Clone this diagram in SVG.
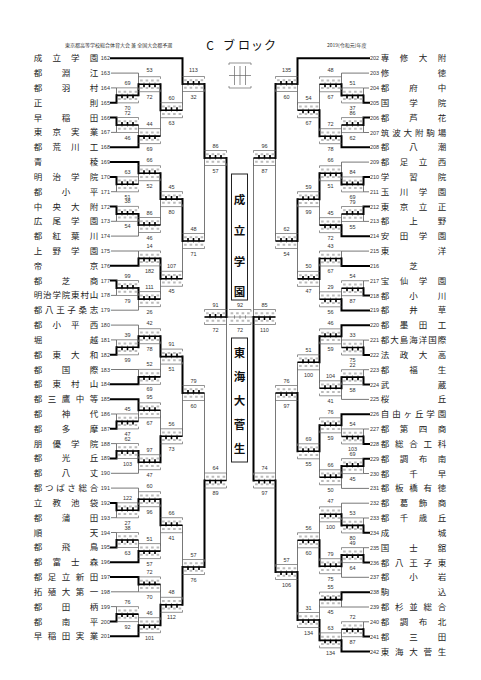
<svg xmlns="http://www.w3.org/2000/svg" width="481" height="680" viewBox="0 0 481 680">
<style>
.nm{font-family:"Noto Sans CJK JP","Noto Sans CJK SC",sans-serif;font-size:8.5px;fill:#222;text-anchor:middle}
.no{font-family:"Liberation Sans",sans-serif;font-size:5.5px;fill:#333}
.nl{text-anchor:end}
.lb{font-family:"Liberation Sans",sans-serif;font-size:5.5px;fill:#333;text-anchor:middle}
.hd{font-family:"Noto Sans CJK JP",sans-serif;font-size:5px;fill:#333}
.tt{font-family:"Noto Sans CJK JP",sans-serif;font-size:12px;fill:#111;text-anchor:middle}
.cn{font-family:"Noto Sans CJK JP",sans-serif;font-size:11.5px;font-weight:bold;fill:#111;text-anchor:middle}
.ln{fill:none;stroke:#555;stroke-width:.8}
.tk{fill:none;stroke:#000;stroke-width:2;stroke-linecap:square}
.bk{fill:none;stroke:#666;stroke-width:.7}
.dg{fill:none;stroke:#bbb;stroke-width:2}
</style>
<defs>
<g id="bl"><path class="bk" d="M0,0H22V2.2M0,15H22V12.8M0,7.5H22M5.5,5.8V9.2M11,5.8V9.2M16.5,5.8V9.2"/><path class="dg" d="M1.6,3.8h2.6M7.1,3.8h2.6M12.6,3.8h2.6M18.1,3.8h2.6M1.6,11.2h2.6M7.1,11.2h2.6M12.6,11.2h2.6M18.1,11.2h2.6"/></g>
<g id="br"><path class="bk" d="M22,0H0V2.2M22,15H0V12.8M0,7.5H22M5.5,5.8V9.2M11,5.8V9.2M16.5,5.8V9.2"/><path class="dg" d="M1.6,3.8h2.6M7.1,3.8h2.6M12.6,3.8h2.6M18.1,3.8h2.6M1.6,11.2h2.6M7.1,11.2h2.6M12.6,11.2h2.6M18.1,11.2h2.6"/></g>
<path id="wt" d="M0,7.5H22M5.5,4.5V7.5M11,4.5V7.5M16.5,4.5V7.5" fill="none" stroke="#000" stroke-width="1.6"/>
<path id="wb" d="M0,7.5H22M5.5,7.5V10.5M11,7.5V10.5M16.5,7.5V10.5" fill="none" stroke="#000" stroke-width="1.6"/>
</defs>
<rect width="481" height="680" fill="#fff"/>

<g id="header">
<text class="hd" x="65" y="47">東京都高等学校総合体育大会 兼 全国大会都予選</text>
<text class="tt" x="210 229 244 257 270" y="50">Cブロック</text>
<text class="hd" x="327" y="47">2019(令和元)年度</text>
</g>

<g id="legend">
<path class="bk" d="M229,63H251M229,63V65M251,63V65M229,88H251M229,88V86M251,88V86M229,75.5H251"/>
<path class="bk" d="M234.5,66V85M240,66V85M245.5,66V85"/>
</g>

<g id="connectors">
<path class="ln" d="M111,73.1H138.5M111,87.9H116.5M111,132.4H116.5M111,191.7H116.5M111,221.3H116.5M111,236.1H138.5M111,251H138.5M111,295.4H116.5M111,310.2H138.5M111,325.1H138.5M111,339.9H116.5M111,369.5H138.5M111,414H116.5M111,443.6H116.5M111,473.3H138.5M111,488.1H138.5M111,517.7H116.5M111,532.5H116.5M111,591.8H138.5M111,606.6H116.5
M116.5,87.9V102.8M116.5,117.6V132.4M116.5,176.9V191.7M116.5,206.5V221.3M116.5,280.6V295.4M116.5,339.9V354.7M116.5,414V428.8M116.5,443.6V458.4M116.5,502.9V517.7M116.5,532.5V547.4M116.5,606.6V621.5
M138.5,73.1V95.35M138.5,125V147.2M138.5,162V184.3M138.5,213.9V236.1M138.5,251V265.8M138.5,288V310.2M138.5,325.1V347.3M138.5,369.5V384.3M138.5,399.2V421.4M138.5,451V473.3M138.5,488.1V510.3M138.5,540V562.2M138.5,577V591.8M138.5,614.1V636.3
M160.5,84.2V136.1M160.5,173.2V225M160.5,258.4V299.1M160.5,336.2V376.9M160.5,410.3V462.2M160.5,499.2V551.1M160.5,584.4V625.2
M182.5,58.3V110.2M182.5,199.1V278.8M182.5,356.6V436.3M182.5,525.2V604.8
M204.5,84V241M204.5,393V567M226.5,158V480.5
M369,73.1H341.5M369,88H363.5M369,132.5H363.5M369,162.1H341.5M369,191.8H363.5M369,221.4H363.5M369,251.1H341.5M369,280.8H363.5M369,340.1H363.5M369,369.7H363.5M369,399.4H341.5M369,429H363.5M369,473.5H363.5M369,488.4H341.5M369,503.2H341.5M369,518H363.5M369,547.7H363.5M369,577.3H341.5M369,607H341.5M369,621.8H363.5
M363.5,88V102.8M363.5,117.6V132.5M363.5,177V191.8M363.5,206.6V221.4M363.5,280.8V295.6M363.5,340.1V354.9M363.5,369.7V384.6M363.5,429V443.9M363.5,458.7V473.5M363.5,518V532.8M363.5,547.7V562.5M363.5,621.8V636.6
M341.5,73.1V95.4M341.5,125.05V147.3M341.5,162.1V184.4M341.5,214V236.3M341.5,251.1V265.9M341.5,288.2V310.4M341.5,325.2V347.5M341.5,377.15V399.4M341.5,414.2V436.45M341.5,466.1V488.4M341.5,503.2V525.4M341.5,555.1V577.3M341.5,592.2V607M341.5,629.2V651.5
M319.5,84.25V136.2M319.5,173.25V225.15M319.5,258.5V299.3M319.5,336.35V388.3M319.5,425.3V477.25M319.5,514.3V566.2M319.5,599.6V640.35
M297.5,58.3V110.2M297.5,199.2V278.9M297.5,362.3V451.3M297.5,540.25V620
M275.5,84V241M275.5,393V572M253.5,158V480.5
M226.5,317H229M251,317H253.5"/>
<path class="tk" d="M111,58.3H182.5M111,102.8H116.5M111,117.6H116.5M111,147.2H138.5M111,162H138.5M111,176.9H116.5M111,206.5H116.5M111,265.8H138.5M111,280.6H116.5M111,354.7H116.5M111,384.3H138.5M111,399.2H138.5M111,428.8H116.5M111,458.4H116.5M111,502.9H116.5M111,547.4H116.5M111,562.2H138.5M111,577H138.5M111,621.5H116.5M111,636.3H138.5
M116.5,102.8V95.35M116.5,117.6V125M116.5,176.9V184.3M116.5,206.5V213.9M116.5,280.6V288M116.5,354.7V347.3M116.5,428.8V421.4M116.5,458.4V451M116.5,502.9V510.3M116.5,547.4V540M116.5,621.5V614.1
M138.5,95.35V84.2M138.5,147.2V136.1M138.5,162V173.2M138.5,213.9V225M138.5,265.8V258.4M138.5,288V299.1M138.5,347.3V336.2M138.5,384.3V376.9M138.5,399.2V410.3M138.5,451V462.2M138.5,510.3V499.2M138.5,562.2V551.1M138.5,577V584.4M138.5,636.3V625.2
M160.5,84.2V110.2M160.5,173.2V199.1M160.5,258.4V278.8M160.5,336.2V356.6M160.5,462.2V436.3M160.5,499.2V525.2M160.5,625.2V604.8
M182.5,58.3V84M182.5,199.1V241M182.5,356.6V393M182.5,604.8V567
M204.5,84V158M204.5,567V480.5M226.5,158V317
M369,58.3H297.5M369,102.8H363.5M369,117.6H363.5M369,147.3H341.5M369,177H363.5M369,206.6H363.5M369,236.3H341.5M369,265.9H341.5M369,295.6H363.5M369,310.4H341.5M369,325.2H341.5M369,354.9H363.5M369,384.6H363.5M369,414.2H341.5M369,443.9H363.5M369,458.7H363.5M369,532.8H363.5M369,562.5H363.5M369,592.2H341.5M369,636.6H363.5M369,651.5H341.5
M363.5,102.8V95.4M363.5,117.6V125.05M363.5,177V184.4M363.5,206.6V214M363.5,295.6V288.2M363.5,354.9V347.5M363.5,384.6V377.15M363.5,443.9V436.45M363.5,458.7V466.1M363.5,532.8V525.4M363.5,562.5V555.1M363.5,636.6V629.2
M341.5,95.4V84.25M341.5,147.3V136.2M341.5,184.4V173.25M341.5,236.3V225.15M341.5,265.9V258.5M341.5,310.4V299.3M341.5,325.2V336.35M341.5,377.15V388.3M341.5,414.2V425.3M341.5,466.1V477.25M341.5,525.4V514.3M341.5,555.1V566.2M341.5,592.2V599.6M341.5,651.5V640.35
M319.5,136.2V110.2M319.5,173.25V199.2M319.5,258.5V278.9M319.5,336.35V362.3M319.5,425.3V451.3M319.5,566.2V540.25M319.5,640.35V620
M297.5,58.3V84M297.5,199.2V241M297.5,451.3V393M297.5,620V572
M275.5,84V158M275.5,572V480.5M253.5,480.5V317"/>
</g>

<g id="matches">
<g id="a1"><use href="#bl" x="116.5" y="87.85"/><use href="#wb" x="116.5" y="87.85"/><text class="lb" x="127.5" y="84.85">69</text><text class="lb" x="127.5" y="109.85">70</text></g>
<g id="a2"><use href="#bl" x="116.5" y="117.5"/><use href="#wt" x="116.5" y="117.5"/><text class="lb" x="127.5" y="114.5">72</text><text class="lb" x="127.5" y="139.5">46</text></g>
<g id="a3"><use href="#bl" x="116.5" y="176.8"/><use href="#wt" x="116.5" y="176.8"/><text class="lb" x="127.5" y="173.8">63</text><text class="lb" x="127.5" y="198.8">51</text></g>
<g id="a4"><use href="#bl" x="116.5" y="206.4"/><use href="#wt" x="116.5" y="206.4"/><text class="lb" x="127.5" y="203.4">38</text><text class="lb" x="127.5" y="228.4">54</text></g>
<g id="a5"><use href="#bl" x="116.5" y="280.5"/><use href="#wt" x="116.5" y="280.5"/><text class="lb" x="127.5" y="277.5">99</text><text class="lb" x="127.5" y="302.5">79</text></g>
<g id="a6"><use href="#bl" x="116.5" y="339.8"/><use href="#wb" x="116.5" y="339.8"/><text class="lb" x="127.5" y="336.8">39</text><text class="lb" x="127.5" y="361.8">99</text></g>
<g id="a7"><use href="#bl" x="116.5" y="413.9"/><use href="#wb" x="116.5" y="413.9"/><text class="lb" x="127.5" y="410.9">45</text><text class="lb" x="127.5" y="435.9">47</text></g>
<g id="a8"><use href="#bl" x="116.5" y="443.5"/><use href="#wb" x="116.5" y="443.5"/><text class="lb" x="127.5" y="440.5">62</text><text class="lb" x="127.5" y="465.5">103</text></g>
<g id="a9"><use href="#bl" x="116.5" y="502.8"/><use href="#wt" x="116.5" y="502.8"/><text class="lb" x="127.5" y="499.8">122</text><text class="lb" x="127.5" y="524.8">27</text></g>
<g id="a10"><use href="#bl" x="116.5" y="532.5"/><use href="#wb" x="116.5" y="532.5"/><text class="lb" x="127.5" y="529.5">38</text><text class="lb" x="127.5" y="554.5">63</text></g>
<g id="a11"><use href="#bl" x="116.5" y="606.6"/><use href="#wb" x="116.5" y="606.6"/><text class="lb" x="127.5" y="603.6">76</text><text class="lb" x="127.5" y="628.6">92</text></g>

<g id="b1"><use href="#bl" x="138.5" y="76.7"/><use href="#wb" x="138.5" y="76.7"/><text class="lb" x="149.5" y="72">53</text><text class="lb" x="149.5" y="98.7">72</text></g>
<g id="b2"><use href="#bl" x="138.5" y="128.6"/><use href="#wb" x="138.5" y="128.6"/><text class="lb" x="149.5" y="125.6">44</text><text class="lb" x="149.5" y="150.6">69</text></g>
<g id="b3"><use href="#bl" x="138.5" y="165.7"/><use href="#wt" x="138.5" y="165.7"/><text class="lb" x="149.5" y="162.2">66</text><text class="lb" x="149.5" y="187.7">52</text></g>
<g id="b4"><use href="#bl" x="138.5" y="217.5"/><use href="#wt" x="138.5" y="217.5"/><text class="lb" x="149.5" y="214.5">86</text><text class="lb" x="149.5" y="239.5">46</text></g>
<g id="b5"><use href="#bl" x="138.5" y="250.9"/><use href="#wb" x="138.5" y="250.9"/><text class="lb" x="149.5" y="247.9">14</text><text class="lb" x="149.5" y="272.9">182</text></g>
<g id="b6"><use href="#bl" x="138.5" y="291.6"/><use href="#wt" x="138.5" y="291.6"/><text class="lb" x="149.5" y="288.6">111</text><text class="lb" x="149.5" y="313.6">26</text></g>
<g id="b7"><use href="#bl" x="138.5" y="328.7"/><use href="#wb" x="138.5" y="328.7"/><text class="lb" x="149.5" y="325.2">42</text><text class="lb" x="149.5" y="350.7">78</text></g>
<g id="b8"><use href="#bl" x="138.5" y="369.4"/><use href="#wb" x="138.5" y="369.4"/><text class="lb" x="149.5" y="366.4">52</text><text class="lb" x="149.5" y="391.4">69</text></g>
<g id="b9"><use href="#bl" x="138.5" y="402.8"/><use href="#wt" x="138.5" y="402.8"/><text class="lb" x="149.5" y="399.3">95</text><text class="lb" x="149.5" y="424.8">67</text></g>
<g id="b10"><use href="#bl" x="138.5" y="454.7"/><use href="#wt" x="138.5" y="454.7"/><text class="lb" x="149.5" y="451.7">97</text><text class="lb" x="149.5" y="476.7">47</text></g>
<g id="b11"><use href="#bl" x="138.5" y="491.7"/><use href="#wb" x="138.5" y="491.7"/><text class="lb" x="149.5" y="488.2">60</text><text class="lb" x="149.5" y="513.7">96</text></g>
<g id="b12"><use href="#bl" x="138.5" y="543.6"/><use href="#wb" x="138.5" y="543.6"/><text class="lb" x="149.5" y="540.6">51</text><text class="lb" x="149.5" y="565.6">57</text></g>
<g id="b13"><use href="#bl" x="138.5" y="576.9"/><use href="#wt" x="138.5" y="576.9"/><text class="lb" x="149.5" y="573.9">72</text><text class="lb" x="149.5" y="598.9">70</text></g>
<g id="b14"><use href="#bl" x="138.5" y="617.7"/><use href="#wb" x="138.5" y="617.7"/><text class="lb" x="149.5" y="614.7">46</text><text class="lb" x="149.5" y="639.7">101</text></g>

<g id="c1"><use href="#bl" x="160.5" y="102.7"/><use href="#wt" x="160.5" y="102.7"/><text class="lb" x="171.5" y="99.7">60</text><text class="lb" x="171.5" y="124.7">63</text></g>
<g id="c2"><use href="#bl" x="160.5" y="191.6"/><use href="#wt" x="160.5" y="191.6"/><text class="lb" x="171.5" y="188.6">45</text><text class="lb" x="171.5" y="213.6">80</text></g>
<g id="c3"><use href="#bl" x="160.5" y="271.3"/><use href="#wt" x="160.5" y="271.3"/><text class="lb" x="171.5" y="268.3">107</text><text class="lb" x="171.5" y="293.3">45</text></g>
<g id="c4"><use href="#bl" x="160.5" y="349.1"/><use href="#wt" x="160.5" y="349.1"/><text class="lb" x="171.5" y="346.1">91</text><text class="lb" x="171.5" y="371.1">51</text></g>
<g id="c5"><use href="#bl" x="160.5" y="428.8"/><use href="#wb" x="160.5" y="428.8"/><text class="lb" x="171.5" y="425.8">56</text><text class="lb" x="171.5" y="450.8">73</text></g>
<g id="c6"><use href="#bl" x="160.5" y="517.7"/><use href="#wt" x="160.5" y="517.7"/><text class="lb" x="171.5" y="514.7">66</text><text class="lb" x="171.5" y="539.7">41</text></g>
<g id="c7"><use href="#bl" x="160.5" y="597.3"/><use href="#wb" x="160.5" y="597.3"/><text class="lb" x="171.5" y="594.3">48</text><text class="lb" x="171.5" y="619.3">112</text></g>

<g id="d1"><use href="#bl" x="182.5" y="76.5"/><use href="#wt" x="182.5" y="76.5"/><text class="lb" x="193.5" y="72">113</text><text class="lb" x="193.5" y="98.5">32</text></g>
<g id="d2"><use href="#bl" x="182.5" y="233.5"/><use href="#wt" x="182.5" y="233.5"/><text class="lb" x="193.5" y="230.5">48</text><text class="lb" x="193.5" y="255.5">71</text></g>
<g id="d3"><use href="#bl" x="182.5" y="385.5"/><use href="#wt" x="182.5" y="385.5"/><text class="lb" x="193.5" y="382.5">79</text><text class="lb" x="193.5" y="407.5">60</text></g>
<g id="d4"><use href="#bl" x="182.5" y="559.5"/><use href="#wb" x="182.5" y="559.5"/><text class="lb" x="193.5" y="556.5">57</text><text class="lb" x="193.5" y="581.5">76</text></g>

<g id="e1"><use href="#bl" x="204.5" y="150.5"/><use href="#wt" x="204.5" y="150.5"/><text class="lb" x="215.5" y="147.5">86</text><text class="lb" x="215.5" y="172.5">57</text></g>
<g id="e2"><use href="#bl" x="204.5" y="473"/><use href="#wb" x="204.5" y="473"/><text class="lb" x="215.5" y="470">64</text><text class="lb" x="215.5" y="495">89</text></g>

<g id="semiL"><use href="#br" x="204.5" y="309.5"/><use href="#wt" x="204.5" y="309.5"/><text class="lb" x="215.5" y="306.5">91</text><text class="lb" x="215.5" y="331.5">72</text></g>
<g id="final"><use href="#bl" x="229" y="309.5"/><text class="lb" x="240" y="306.5">92</text><text class="lb" x="240" y="331.5">72</text></g>
<g id="semiR"><use href="#bl" x="253.5" y="309.5"/><use href="#wb" x="253.5" y="309.5"/><text class="lb" x="264.5" y="306.5">85</text><text class="lb" x="264.5" y="331.5">110</text></g>

<g id="ra1"><use href="#br" x="341.5" y="87.9"/><use href="#wb" x="341.5" y="87.9"/><text class="lb" x="352.5" y="84.9">51</text><text class="lb" x="352.5" y="109.9">37</text></g>
<g id="ra2"><use href="#br" x="341.5" y="117.55"/><use href="#wt" x="341.5" y="117.55"/><text class="lb" x="352.5" y="114.55">86</text><text class="lb" x="352.5" y="139.55">62</text></g>
<g id="ra3"><use href="#br" x="341.5" y="176.9"/><use href="#wt" x="341.5" y="176.9"/><text class="lb" x="352.5" y="173.9">84</text><text class="lb" x="352.5" y="198.9">69</text></g>
<g id="ra4"><use href="#br" x="341.5" y="206.5"/><use href="#wt" x="341.5" y="206.5"/><text class="lb" x="352.5" y="203.5">79</text><text class="lb" x="352.5" y="228.5">55</text></g>
<g id="ra5"><use href="#br" x="341.5" y="280.7"/><use href="#wb" x="341.5" y="280.7"/><text class="lb" x="352.5" y="277.7">54</text><text class="lb" x="352.5" y="302.7">87</text></g>
<g id="ra6"><use href="#br" x="341.5" y="340"/><use href="#wb" x="341.5" y="340"/><text class="lb" x="352.5" y="337">33</text><text class="lb" x="352.5" y="362">75</text></g>
<g id="ra7"><use href="#br" x="341.5" y="369.65"/><use href="#wb" x="341.5" y="369.65"/><text class="lb" x="352.5" y="366.65">22</text><text class="lb" x="352.5" y="391.65">58</text></g>
<g id="ra8"><use href="#br" x="341.5" y="428.95"/><use href="#wb" x="341.5" y="428.95"/><text class="lb" x="352.5" y="425.95">54</text><text class="lb" x="352.5" y="450.95">103</text></g>
<g id="ra9"><use href="#br" x="341.5" y="458.6"/><use href="#wt" x="341.5" y="458.6"/><text class="lb" x="352.5" y="455.6">69</text><text class="lb" x="352.5" y="480.6">45</text></g>
<g id="ra10"><use href="#br" x="341.5" y="517.9"/><use href="#wb" x="341.5" y="517.9"/><text class="lb" x="352.5" y="514.9">53</text><text class="lb" x="352.5" y="539.9">80</text></g>
<g id="ra11"><use href="#br" x="341.5" y="547.6"/><use href="#wb" x="341.5" y="547.6"/><text class="lb" x="352.5" y="544.6">49</text><text class="lb" x="352.5" y="569.6">64</text></g>
<g id="ra12"><use href="#br" x="341.5" y="621.7"/><use href="#wb" x="341.5" y="621.7"/><text class="lb" x="352.5" y="618.7">72</text><text class="lb" x="352.5" y="643.7">87</text></g>

<g id="rb1"><use href="#br" x="319.5" y="76.75"/><use href="#wb" x="319.5" y="76.75"/><text class="lb" x="330.5" y="72">48</text><text class="lb" x="330.5" y="98.75">67</text></g>
<g id="rb2"><use href="#br" x="319.5" y="128.7"/><use href="#wb" x="319.5" y="128.7"/><text class="lb" x="330.5" y="125.7">72</text><text class="lb" x="330.5" y="150.7">78</text></g>
<g id="rb3"><use href="#br" x="319.5" y="165.75"/><use href="#wb" x="319.5" y="165.75"/><text class="lb" x="330.5" y="162.25">66</text><text class="lb" x="330.5" y="187.75">51</text></g>
<g id="rb4"><use href="#br" x="319.5" y="217.65"/><use href="#wb" x="319.5" y="217.65"/><text class="lb" x="330.5" y="214.65">45</text><text class="lb" x="330.5" y="239.65">72</text></g>
<g id="rb5"><use href="#br" x="319.5" y="251"/><use href="#wb" x="319.5" y="251"/><text class="lb" x="330.5" y="248">43</text><text class="lb" x="330.5" y="273">67</text></g>
<g id="rb6"><use href="#br" x="319.5" y="291.8"/><use href="#wb" x="319.5" y="291.8"/><text class="lb" x="330.5" y="288.8">29</text><text class="lb" x="330.5" y="313.8">56</text></g>
<g id="rb7"><use href="#br" x="319.5" y="328.85"/><use href="#wt" x="319.5" y="328.85"/><text class="lb" x="330.5" y="325.35">46</text><text class="lb" x="330.5" y="350.85">59</text></g>
<g id="rb8"><use href="#br" x="319.5" y="380.8"/><use href="#wt" x="319.5" y="380.8"/><text class="lb" x="330.5" y="377.8">104</text><text class="lb" x="330.5" y="402.8">41</text></g>
<g id="rb9"><use href="#br" x="319.5" y="417.8"/><use href="#wt" x="319.5" y="417.8"/><text class="lb" x="330.5" y="414.3">76</text><text class="lb" x="330.5" y="439.8">59</text></g>
<g id="rb10"><use href="#br" x="319.5" y="469.75"/><use href="#wt" x="319.5" y="469.75"/><text class="lb" x="330.5" y="466.75">66</text><text class="lb" x="330.5" y="491.75">50</text></g>
<g id="rb11"><use href="#br" x="319.5" y="506.8"/><use href="#wb" x="319.5" y="506.8"/><text class="lb" x="330.5" y="503.3">47</text><text class="lb" x="330.5" y="528.8">100</text></g>
<g id="rb12"><use href="#br" x="319.5" y="558.7"/><use href="#wt" x="319.5" y="558.7"/><text class="lb" x="330.5" y="555.7">79</text><text class="lb" x="330.5" y="580.7">75</text></g>
<g id="rb13"><use href="#br" x="319.5" y="592.1"/><use href="#wt" x="319.5" y="592.1"/><text class="lb" x="330.5" y="589.1">55</text><text class="lb" x="330.5" y="614.1">45</text></g>
<g id="rb14"><use href="#br" x="319.5" y="632.85"/><use href="#wb" x="319.5" y="632.85"/><text class="lb" x="330.5" y="629.85">63</text><text class="lb" x="330.5" y="654.85">134</text></g>

<g id="rc1"><use href="#br" x="297.5" y="102.7"/><use href="#wb" x="297.5" y="102.7"/><text class="lb" x="308.5" y="99.7">54</text><text class="lb" x="308.5" y="124.7">67</text></g>
<g id="rc2"><use href="#br" x="297.5" y="191.7"/><use href="#wt" x="297.5" y="191.7"/><text class="lb" x="308.5" y="188.7">59</text><text class="lb" x="308.5" y="213.7">99</text></g>
<g id="rc3"><use href="#br" x="297.5" y="271.4"/><use href="#wt" x="297.5" y="271.4"/><text class="lb" x="308.5" y="268.4">50</text><text class="lb" x="308.5" y="293.4">47</text></g>
<g id="rc4"><use href="#br" x="297.5" y="354.8"/><use href="#wt" x="297.5" y="354.8"/><text class="lb" x="308.5" y="351.8">51</text><text class="lb" x="308.5" y="376.8">100</text></g>
<g id="rc5"><use href="#br" x="297.5" y="443.8"/><use href="#wt" x="297.5" y="443.8"/><text class="lb" x="308.5" y="440.8">69</text><text class="lb" x="308.5" y="465.8">55</text></g>
<g id="rc6"><use href="#br" x="297.5" y="532.75"/><use href="#wb" x="297.5" y="532.75"/><text class="lb" x="308.5" y="529.75">56</text><text class="lb" x="308.5" y="554.75">60</text></g>
<g id="rc7"><use href="#br" x="297.5" y="612.5"/><use href="#wb" x="297.5" y="612.5"/><text class="lb" x="308.5" y="609.5">31</text><text class="lb" x="308.5" y="634.5">134</text></g>

<g id="rd1"><use href="#br" x="275.5" y="76.5"/><use href="#wt" x="275.5" y="76.5"/><text class="lb" x="286.5" y="72">135</text><text class="lb" x="286.5" y="98.5">60</text></g>
<g id="rd2"><use href="#br" x="275.5" y="233.5"/><use href="#wt" x="275.5" y="233.5"/><text class="lb" x="286.5" y="230.5">62</text><text class="lb" x="286.5" y="255.5">54</text></g>
<g id="rd3"><use href="#br" x="275.5" y="385.5"/><use href="#wb" x="275.5" y="385.5"/><text class="lb" x="286.5" y="382.5">76</text><text class="lb" x="286.5" y="407.5">97</text></g>
<g id="rd4"><use href="#br" x="275.5" y="564.5"/><use href="#wb" x="275.5" y="564.5"/><text class="lb" x="286.5" y="561.5">57</text><text class="lb" x="286.5" y="586.5">106</text></g>

<g id="re1"><use href="#br" x="253.5" y="150.5"/><use href="#wt" x="253.5" y="150.5"/><text class="lb" x="264.5" y="147.5">96</text><text class="lb" x="264.5" y="172.5">87</text></g>
<g id="re2"><use href="#br" x="253.5" y="473"/><use href="#wb" x="253.5" y="473"/><text class="lb" x="264.5" y="470">74</text><text class="lb" x="264.5" y="495">97</text></g>
</g>

<g id="winners">
<g id="w-seiritsu"><rect x="231.5" y="174" width="16" height="126" fill="#fff" stroke="#222" stroke-width="1"/><text class="cn" x="239.5 239.5 239.5 239.5" y="204 235 266 296">成立学園</text></g>
<g id="w-tokai"><rect x="231.5" y="338" width="16" height="124" fill="#fff" stroke="#222" stroke-width="1"/><text class="cn" x="239.5 239.5 239.5 239.5 239.5" y="357 381 405 429 453">東海大菅生</text></g>
</g>

<g id="teams-left">
<g id="t162"><text class="nm" x="38 56.7 75.3 94" y="61.3">成立学園</text><text class="no nl" x="110" y="60.3">162</text></g>
<g id="t163"><text class="nm" x="38 66 94" y="76.1">都淵江</text><text class="no nl" x="110" y="75.1">163</text></g>
<g id="t164"><text class="nm" x="38 66 94" y="90.9">都羽村</text><text class="no nl" x="110" y="89.9">164</text></g>
<g id="t165"><text class="nm" x="38 94" y="105.8">正則</text><text class="no nl" x="110" y="104.8">165</text></g>
<g id="t166"><text class="nm" x="38 66 94" y="120.6">早稲田</text><text class="no nl" x="110" y="119.6">166</text></g>
<g id="t167"><text class="nm" x="38 56.7 75.3 94" y="135.4">東京実業</text><text class="no nl" x="110" y="134.4">167</text></g>
<g id="t168"><text class="nm" x="38 56.7 75.3 94" y="150.2">都荒川工</text><text class="no nl" x="110" y="149.2">168</text></g>
<g id="t169"><text class="nm" x="38 94" y="165">青稜</text><text class="no nl" x="110" y="164">169</text></g>
<g id="t170"><text class="nm" x="38 56.7 75.3 94" y="179.9">明治学院</text><text class="no nl" x="110" y="178.9">170</text></g>
<g id="t171"><text class="nm" x="38 66 94" y="194.7">都小平</text><text class="no nl" x="110" y="193.7">171</text></g>
<g id="t172"><text class="nm" x="38 56.7 75.3 94" y="209.5">中央大附</text><text class="no nl" x="110" y="208.5">172</text></g>
<g id="t173"><text class="nm" x="38 56.7 75.3 94" y="224.3">広尾学園</text><text class="no nl" x="110" y="223.3">173</text></g>
<g id="t174"><text class="nm" x="38 56.7 75.3 94" y="239.1">都紅葉川</text><text class="no nl" x="110" y="238.1">174</text></g>
<g id="t175"><text class="nm" x="38 56.7 75.3 94" y="254">上野学園</text><text class="no nl" x="110" y="253">175</text></g>
<g id="t176"><text class="nm" x="38 94" y="268.8">帝京</text><text class="no nl" x="110" y="267.8">176</text></g>
<g id="t177"><text class="nm" x="38 66 94" y="283.6">都芝商</text><text class="no nl" x="110" y="282.6">177</text></g>
<g id="t178"><text class="nm" x="38 47.3 56.7 66 75.3 84.7 94" y="298.4">明治学院東村山</text><text class="no nl" x="110" y="297.4">178</text></g>
<g id="t179"><text class="nm" x="38 49.2 60.4 71.6 82.8 94" y="313.2">都八王子桑志</text><text class="no nl" x="110" y="312.2">179</text></g>
<g id="t180"><text class="nm" x="38 56.7 75.3 94" y="328.1">都小平西</text><text class="no nl" x="110" y="327.1">180</text></g>
<g id="t181"><text class="nm" x="38 94" y="342.9">堀越</text><text class="no nl" x="110" y="341.9">181</text></g>
<g id="t182"><text class="nm" x="38 56.7 75.3 94" y="357.7">都東大和</text><text class="no nl" x="110" y="356.7">182</text></g>
<g id="t183"><text class="nm" x="38 66 94" y="372.5">都国際</text><text class="no nl" x="110" y="371.5">183</text></g>
<g id="t184"><text class="nm" x="38 56.7 75.3 94" y="387.3">都東村山</text><text class="no nl" x="110" y="386.3">184</text></g>
<g id="t185"><text class="nm" x="38 52 66 80 94" y="402.2">都三鷹中等</text><text class="no nl" x="110" y="401.2">185</text></g>
<g id="t186"><text class="nm" x="38 66 94" y="417">都神代</text><text class="no nl" x="110" y="416">186</text></g>
<g id="t187"><text class="nm" x="38 66 94" y="431.8">都多摩</text><text class="no nl" x="110" y="430.8">187</text></g>
<g id="t188"><text class="nm" x="38 56.7 75.3 94" y="446.6">朋優学院</text><text class="no nl" x="110" y="445.6">188</text></g>
<g id="t189"><text class="nm" x="38 66 94" y="461.4">都光丘</text><text class="no nl" x="110" y="460.4">189</text></g>
<g id="t190"><text class="nm" x="38 66 94" y="476.3">都八丈</text><text class="no nl" x="110" y="475.3">190</text></g>
<g id="t191"><text class="nm" x="38 49.2 60.4 71.6 82.8 94" y="491.1">都つばさ総合</text><text class="no nl" x="110" y="490.1">191</text></g>
<g id="t192"><text class="nm" x="38 56.7 75.3 94" y="505.9">立教池袋</text><text class="no nl" x="110" y="504.9">192</text></g>
<g id="t193"><text class="nm" x="38 66 94" y="520.7">都蒲田</text><text class="no nl" x="110" y="519.7">193</text></g>
<g id="t194"><text class="nm" x="38 94" y="535.5">順天</text><text class="no nl" x="110" y="534.5">194</text></g>
<g id="t195"><text class="nm" x="38 66 94" y="550.4">都飛鳥</text><text class="no nl" x="110" y="549.4">195</text></g>
<g id="t196"><text class="nm" x="38 56.7 75.3 94" y="565.2">都富士森</text><text class="no nl" x="110" y="564.2">196</text></g>
<g id="t197"><text class="nm" x="38 52 66 80 94" y="580">都足立新田</text><text class="no nl" x="110" y="579">197</text></g>
<g id="t198"><text class="nm" x="38 52 66 80 94" y="594.8">拓殖大第一</text><text class="no nl" x="110" y="593.8">198</text></g>
<g id="t199"><text class="nm" x="38 66 94" y="609.6">都田柄</text><text class="no nl" x="110" y="608.6">199</text></g>
<g id="t200"><text class="nm" x="38 66 94" y="624.5">都南平</text><text class="no nl" x="110" y="623.5">200</text></g>
<g id="t201"><text class="nm" x="38 52 66 80 94" y="639.3">早稲田実業</text><text class="no nl" x="110" y="638.3">201</text></g>
</g>

<g id="teams-right">
<g id="t202"><text class="no" x="370" y="60.3">202</text><text class="nm" x="385 404 423 442" y="61.3">専修大附</text></g>
<g id="t203"><text class="no" x="370" y="75.1">203</text><text class="nm" x="385 442" y="76.1">修徳</text></g>
<g id="t204"><text class="no" x="370" y="90">204</text><text class="nm" x="385 413.5 442" y="91">都府中</text></g>
<g id="t205"><text class="no" x="370" y="104.8">205</text><text class="nm" x="385 413.5 442" y="105.8">国学院</text></g>
<g id="t206"><text class="no" x="370" y="119.6">206</text><text class="nm" x="385 413.5 442" y="120.6">都芦花</text></g>
<g id="t207"><text class="no" x="370" y="134.5">207</text><text class="nm" x="385 396.4 407.8 419.2 430.6 442" y="135.5">筑波大附駒場</text></g>
<g id="t208"><text class="no" x="370" y="149.3">208</text><text class="nm" x="385 413.5 442" y="150.3">都八潮</text></g>
<g id="t209"><text class="no" x="370" y="164.1">209</text><text class="nm" x="385 404 423 442" y="165.1">都足立西</text></g>
<g id="t210"><text class="no" x="370" y="179">210</text><text class="nm" x="385 413.5 442" y="180">学習院</text></g>
<g id="t211"><text class="no" x="370" y="193.8">211</text><text class="nm" x="385 404 423 442" y="194.8">玉川学園</text></g>
<g id="t212"><text class="no" x="370" y="208.6">212</text><text class="nm" x="385 404 423 442" y="209.6">東京立正</text></g>
<g id="t213"><text class="no" x="370" y="223.4">213</text><text class="nm" x="385 413.5 442" y="224.4">都上野</text></g>
<g id="t214"><text class="no" x="370" y="238.3">214</text><text class="nm" x="385 404 423 442" y="239.3">安田学園</text></g>
<g id="t215"><text class="no" x="370" y="253.1">215</text><text class="nm" x="385 442" y="254.1">東洋</text></g>
<g id="t216"><text class="no" x="370" y="267.9">216</text><text class="nm" x="413.5" y="268.9">芝</text></g>
<g id="t217"><text class="no" x="370" y="282.8">217</text><text class="nm" x="385 404 423 442" y="283.8">宝仙学園</text></g>
<g id="t218"><text class="no" x="370" y="297.6">218</text><text class="nm" x="385 413.5 442" y="298.6">都小川</text></g>
<g id="t219"><text class="no" x="370" y="312.4">219</text><text class="nm" x="385 413.5 442" y="313.4">都井草</text></g>
<g id="t220"><text class="no" x="370" y="327.2">220</text><text class="nm" x="385 404 423 442" y="328.2">都墨田工</text></g>
<g id="t221"><text class="no" x="370" y="342.1">221</text><text class="nm" x="385 394.5 404 413.5 423 432.5 442" y="343.1">都大島海洋国際</text></g>
<g id="t222"><text class="no" x="370" y="356.9">222</text><text class="nm" x="385 404 423 442" y="357.9">法政大高</text></g>
<g id="t223"><text class="no" x="370" y="371.7">223</text><text class="nm" x="385 413.5 442" y="372.7">都福生</text></g>
<g id="t224"><text class="no" x="370" y="386.6">224</text><text class="nm" x="385 442" y="387.6">武蔵</text></g>
<g id="t225"><text class="no" x="370" y="401.4">225</text><text class="nm" x="385 442" y="402.4">桜丘</text></g>
<g id="t226"><text class="no" x="370" y="416.2">226</text><text class="nm" x="385 396.4 407.8 419.2 430.6 442" y="417.2">自由ヶ丘学園</text></g>
<g id="t227"><text class="no" x="370" y="431">227</text><text class="nm" x="385 404 423 442" y="432">都第四商</text></g>
<g id="t228"><text class="no" x="370" y="445.9">228</text><text class="nm" x="385 399.3 413.5 427.8 442" y="446.9">都総合工科</text></g>
<g id="t229"><text class="no" x="370" y="460.7">229</text><text class="nm" x="385 404 423 442" y="461.7">都調布南</text></g>
<g id="t230"><text class="no" x="370" y="475.5">230</text><text class="nm" x="385 413.5 442" y="476.5">都千早</text></g>
<g id="t231"><text class="no" x="370" y="490.4">231</text><text class="nm" x="385 399.3 413.5 427.8 442" y="491.4">都板橋有徳</text></g>
<g id="t232"><text class="no" x="370" y="505.2">232</text><text class="nm" x="385 404 423 442" y="506.2">都葛飾商</text></g>
<g id="t233"><text class="no" x="370" y="520">233</text><text class="nm" x="385 404 423 442" y="521">都千歳丘</text></g>
<g id="t234"><text class="no" x="370" y="534.8">234</text><text class="nm" x="385 442" y="535.8">成城</text></g>
<g id="t235"><text class="no" x="370" y="549.7">235</text><text class="nm" x="385 413.5 442" y="550.7">国士舘</text></g>
<g id="t236"><text class="no" x="370" y="564.5">236</text><text class="nm" x="385 399.3 413.5 427.8 442" y="565.5">都八王子東</text></g>
<g id="t237"><text class="no" x="370" y="579.3">237</text><text class="nm" x="385 413.5 442" y="580.3">都小岩</text></g>
<g id="t238"><text class="no" x="370" y="594.2">238</text><text class="nm" x="385 442" y="595.2">駒込</text></g>
<g id="t239"><text class="no" x="370" y="609">239</text><text class="nm" x="385 399.3 413.5 427.8 442" y="610">都杉並総合</text></g>
<g id="t240"><text class="no" x="370" y="623.8">240</text><text class="nm" x="385 404 423 442" y="624.8">都調布北</text></g>
<g id="t241"><text class="no" x="370" y="638.6">241</text><text class="nm" x="385 413.5 442" y="639.6">都三田</text></g>
<g id="t242"><text class="no" x="370" y="653.5">242</text><text class="nm" x="385 399.3 413.5 427.8 442" y="654.5">東海大菅生</text></g>
</g>
</svg>
